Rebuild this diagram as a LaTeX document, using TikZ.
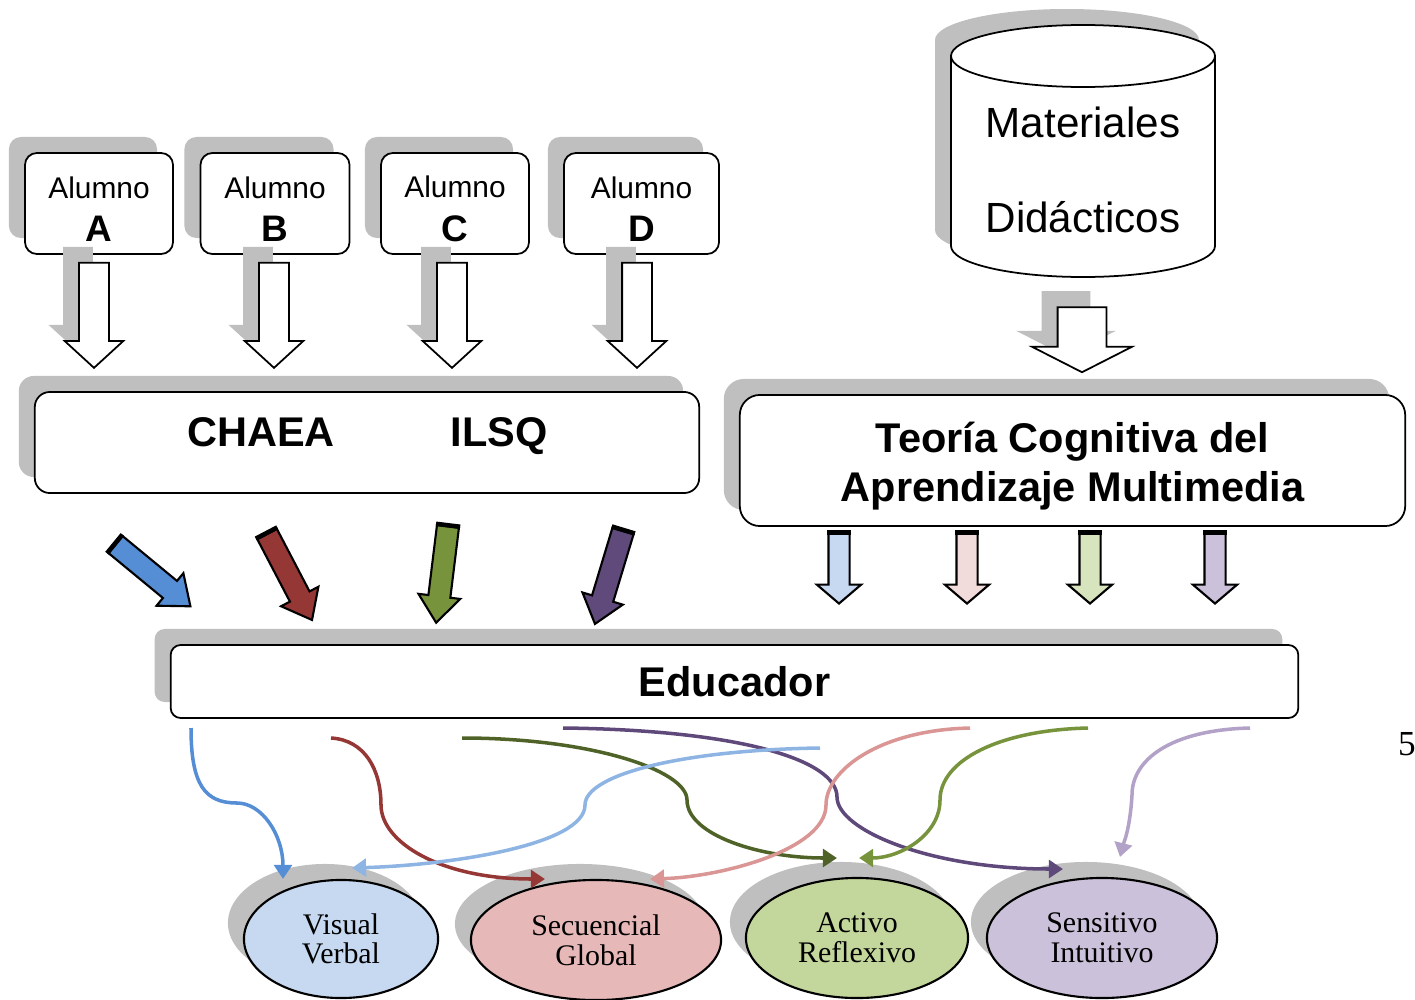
\documentclass[tikz,border=0pt]{standalone}
\usepackage{fontspec}
\setmainfont{Liberation Serif}
\setsansfont{Liberation Sans}
\usepackage{tikz}
\usetikzlibrary{arrows.meta, positioning, shapes.geometric, shapes.arrows, shadows}
\definecolor{shade}{HTML}{BFBFBF}
\definecolor{arrblue}{HTML}{558ED5}
\definecolor{arrred}{HTML}{953735}
\definecolor{arrgreen}{HTML}{77933C}
\definecolor{arrpurple}{HTML}{604A7B}
\definecolor{lblue}{HTML}{C6D9F1}
\definecolor{lpink}{HTML}{F2DCDB}
\definecolor{lgreen}{HTML}{D7E4BD}
\definecolor{lpurple}{HTML}{CCC1DA}
\definecolor{vvfill}{HTML}{C6D9F1}
\definecolor{sgfill}{HTML}{E6B9B8}
\definecolor{arfill}{HTML}{C3D69B}
\definecolor{sifill}{HTML}{CCC1DA}
\definecolor{cdkgreen}{HTML}{4F6228}
\definecolor{cpurple}{HTML}{5F497A}
\definecolor{clblue}{HTML}{8EB4E3}
\definecolor{cpink}{HTML}{D99694}
\definecolor{clilac}{HTML}{B3A2C7}
\newcommand{\drawdrum}[2]{
    \begin{scope}[shift={(#1)}]
        \filldraw[#2] (-132,0) -- (-132,190) arc[start angle=180, end angle=0, x radius=132, y radius=31] -- (132,0) -- cycle;
        \filldraw[#2] (0,0) ellipse [x radius=132, y radius=31];
    \end{scope}
}

\begin{document}
\begin{tikzpicture}[x=0.01cm, y=-0.01cm,
    boxshadow/.style={drop shadow={shadow xshift=-0.16cm, shadow yshift=0.16cm, fill=shade, opacity=1}},
    alumno/.style={draw, fill=white, line width=0.5pt, rounded corners=0.12cm, minimum height=1.01cm, align=center, inner sep=0pt, font=\sffamily\fontsize{8.5}{12.5}\selectfont, boxshadow},
    bigbox/.style={draw, fill=white, line width=0.5pt, rounded corners=0.15cm, align=center, font=\sffamily\bfseries\fontsize{11.8}{14}\selectfont, boxshadow},
    whitearrow/.style={single arrow, draw, fill=white, line width=0.5pt, inner xsep=0pt, rotate=-90, boxshadow},
    colarrow/.style={single arrow, draw, line width=0.6pt, inner xsep=0pt, inner ysep=0.1cm, minimum height=0.97cm, single arrow head extend=0.1cm, single arrow tip angle=77},
    smallarrow/.style={single arrow, draw, line width=0.6pt, inner xsep=0pt, inner ysep=0.095cm, rotate=-90, minimum height=0.7cm, single arrow head extend=0.115cm, single arrow tip angle=99},
    style/.style={ellipse, draw, line width=0.6pt, inner sep=0pt, align=center, font=\fontsize{8.5}{8.4}\selectfont, boxshadow},
    curve/.style={line width=1pt, -{Triangle[length=4pt, width=5pt]}}
]
\useasboundingbox (0,0) rectangle (1415,1000);

% Alumnos
\foreach \x/\n/\w in {99/A/1.48, 275/B/1.49, 455/C/1.48, 641.5/D/1.55} {
    \node[alumno, minimum width=\w cm] (alu\n) at (\x,203.5) {\rule{0pt}{3.3mm}Alumno\\{\bfseries\fontsize{10.5}{12.5}\selectfont \n}};
}
\foreach \x/\n in {94/A, 274/B, 452/C, 637/D} {
    \node[whitearrow, inner ysep=0.14cm, minimum height=1.05cm, single arrow head extend=0.145cm, single arrow tip angle=95] (arr\n) at (\x,308.5) {};
}

% Materiales didacticos
\drawdrum{1067,40}{fill=shade, draw=none}
\drawdrum{1083,56}{fill=white, draw=black, line width=0.5pt}
\node[font=\sffamily\fontsize{12}{27}\selectfont, align=center] (materiales) at (1083,170) {Materiales\\Didácticos};
\node[whitearrow, inner ysep=0.235cm, minimum height=0.65cm, single arrow head extend=0.255cm, single arrow tip angle=126] (matarrow) at (1082,333.5) {};

% Cuestionarios
\node[bigbox, minimum width=6.64cm, minimum height=1.01cm] (tests) at (367,442.5) {};
\node[font=\sffamily\bfseries\fontsize{11.8}{14}\selectfont, anchor=base] (chaea) at (261,446) {CHAEA};
\node[font=\sffamily\bfseries\fontsize{11.8}{14}\selectfont, anchor=base] (ilsq) at (499,446) {ILSQ};

% Teoria
\node[bigbox, rounded corners=0.2cm, minimum width=6.65cm, minimum height=1.31cm] (teoria) at (1072.5,460.5) {\rule{0pt}{4.2mm}Teoría Cognitiva del\\Aprendizaje Multimedia};

% Flechas de colores
\foreach \x/\y/\a/\c/\i in {147.6/571/-39.5/arrblue/1, 286.3/570.8/-62.4/arrred/2, 442.9/567.6/-97/arrgreen/3, 611/570.8/-106.8/arrpurple/4} {
    \node[colarrow, fill=\c, rotate=\a] (ca\i) at (\x,\y) {};
    \draw[line width=1.3pt] (ca\i.before tail) -- (ca\i.after tail);
}
\foreach \x/\c/\i in {839/lblue/1, 967/lpink/2, 1090/lgreen/3, 1215/lpurple/4} {
    \node[smallarrow, fill=\c] (sa\i) at (\x,564) {};
    \draw[line width=1.3pt] (sa\i.before tail) -- (sa\i.after tail);
}

% Educador
\node[bigbox, rounded corners=0.1cm, minimum width=11.27cm, minimum height=0.73cm] (educador) at (734.5,681.5) {Educador};

% Estilos
\node[style, fill=vvfill, minimum width=1.94cm, minimum height=1.18cm] (visual) at (341,939) {Visual\\Verbal};
\node[style, fill=sgfill, minimum width=2.5cm, minimum height=1.2cm] (secuencial) at (596,940) {Secuencial\\Global};
\node[style, fill=arfill, minimum width=2.22cm, minimum height=1.2cm] (activo) at (857,938) {Activo\\Reflexivo};
\node[style, fill=sifill, minimum width=2.3cm, minimum height=1.2cm] (sensitivo) at (1102,938) {Sensitivo\\Intuitivo};

% Salidas del educador
\coordinate (edu1) at (191,728);
\coordinate (edu2) at (331,738);
\coordinate (edu3) at (462,738);
\coordinate (edu4) at (563,728);
\coordinate (edu5) at (820,748);
\coordinate (edu6) at (970,728);
\coordinate (edu7) at (1088,728);
\coordinate (edu8) at (1250,728);
\coordinate (vvin1) at (283,879);
\coordinate (vvin2) at (352,868);
\coordinate (sgin1) at (545,879);
\coordinate (sgin2) at (650,879);
\coordinate (arin1) at (837,858);
\coordinate (arin2) at (859,858);
\coordinate (siin1) at (1063,869);
\coordinate (siin2) at (1120,857);

\draw[curve, arrblue] (edu1) .. controls (191,785) and (205,803) .. (237,803) .. controls (262,803) and (283,835) .. (vvin1);
\draw[curve, arrred] (edu2) .. controls (365,740) and (381,770) .. (381,805) .. controls (381,842) and (440,879) .. (sgin1);
\draw[curve, cdkgreen] (edu3) .. controls (590,738) and (687,770) .. (687,800) .. controls (687,835) and (760,858) .. (arin1);
\draw[curve, cpurple] (edu4) .. controls (740,730) and (837,760) .. (837,797) .. controls (837,830) and (930,869) .. (siin1);
\draw[curve, clblue] (edu5) .. controls (680,750) and (585,775) .. (585,805) .. controls (585,845) and (450,865) .. (vvin2);
\draw[curve, cpink] (edu6) .. controls (880,730) and (826,770) .. (826,805) .. controls (826,850) and (720,877) .. (sgin2);
\draw[curve, arrgreen] (edu7) .. controls (1000,730) and (940,760) .. (940,800) .. controls (940,835) and (900,858) .. (arin2);
\draw[curve, clilac] (edu8) .. controls (1170,730) and (1132,760) .. (1132,795) .. controls (1130,830) and (1123,845) .. (siin2);

\node[font=\fontsize{10}{12}\selectfont] (pagina) at (1407,744) {5};
\end{tikzpicture}
\end{document}
